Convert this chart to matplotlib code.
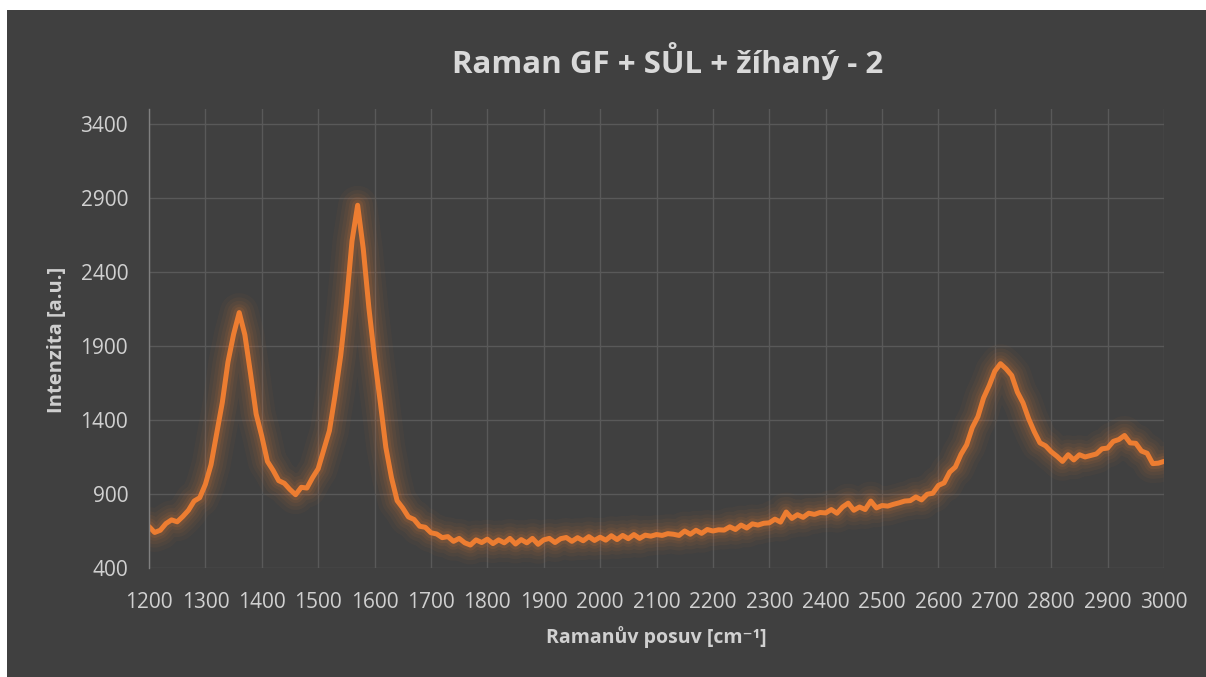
import matplotlib.pyplot as plt
from matplotlib.patches import Rectangle

plt.rcParams['font.family'] = ['Open Sans', 'DejaVu Sans']

# Raman spectrum, one value every 10 cm-1
wavenumber = list(range(1200, 3001, 10))
intensity = [
    680, 640, 655, 700, 725, 712, 748, 790, 852, 875,
    965, 1098, 1310, 1518, 1790, 1978, 2125, 1975, 1715, 1440,
    1290, 1120, 1060, 990, 972, 930, 895, 945, 940, 1010,
    1070, 1200, 1328, 1568, 1835, 2185, 2608, 2850, 2555, 2155,
    1820, 1525, 1215, 1010, 855, 805, 745, 728, 682, 675,
    638, 630, 605, 612, 580, 600, 570, 555, 590, 572,
    595, 565, 590, 570, 600, 562, 592, 570, 600, 560,
    590, 600, 572, 598, 606, 580, 605, 584, 612, 586,
    608, 588, 618, 592, 620, 598, 626, 600, 622, 615,
    626, 620, 632, 628, 620, 650, 628, 655, 634, 660,
    650, 658, 656, 678, 660, 690, 670, 698, 690, 702,
    705, 730, 710, 778, 735, 760, 742, 770, 762, 775,
    772, 795, 770, 812, 838, 790, 812, 795, 852, 806,
    822, 818, 830, 840, 852, 855, 880, 860, 898, 905,
    958, 975, 1048, 1082, 1168, 1232, 1348, 1422, 1548, 1632,
    1730, 1780, 1745, 1700, 1588, 1515, 1408, 1320, 1245, 1225,
    1185, 1155, 1120, 1165, 1130, 1165, 1150, 1160, 1170, 1205,
    1210, 1255, 1268, 1295, 1245, 1242, 1190, 1175, 1105, 1108,
    1120,
]
x_ticks = list(range(1200, 3001, 100))
y_ticks = list(range(400, 3401, 500))

BG = "#404040"
GRID = "#595959"
TEXT = "#d0d0d0"
ORANGE = "#ED7D31"

fig = plt.figure(figsize=(12.06, 6.77), dpi=100, facecolor="white")
fig.patches.append(Rectangle((7 / 1206, 0), 1, 667 / 677, transform=fig.transFigure,
                             facecolor=BG, edgecolor="none", zorder=-5))

ax = fig.add_axes([149 / 1206, 109 / 677, 1015 / 1206, 459 / 677])
ax.set_facecolor(BG)

# soft glow around the line
for lw, a in [(28, 0.04), (22, 0.05), (17, 0.06), (12, 0.08), (8, 0.12)]:
    ax.plot(wavenumber, intensity, color=ORANGE, lw=lw, alpha=a,
            solid_capstyle="round", solid_joinstyle="round")
ax.plot(wavenumber, intensity, color=ORANGE, lw=3.6,
        solid_capstyle="round", solid_joinstyle="round")

ax.set_xlim(1200, 3000)
ax.set_ylim(400, 3500)
ax.set_xticks(x_ticks)
ax.set_yticks(y_ticks)
ax.grid(True, color=GRID, lw=1.0)
ax.set_axisbelow(True)
for s in ["top", "right", "bottom"]:
    ax.spines[s].set_visible(False)
ax.spines["left"].set_color("#808080")
ax.spines["left"].set_linewidth(1.0)
ax.tick_params(length=0, labelsize=15, colors=TEXT)
ax.tick_params(axis="y", pad=15)
ax.tick_params(axis="x", pad=17)

fig.text(668 / 1206, 1 - 61 / 677, "Raman GF + SŮL + žíhaný - 2", ha="center", va="center",
         fontsize=22.5, fontweight="bold", color="#d9d9d9")
fig.text(656 / 1206, 1 - 637 / 677, "Ramanův posuv [cm⁻¹]", ha="center", va="center",
         fontsize=14, fontweight="bold", color=TEXT)
fig.text(57 / 1206, 1 - 340 / 677, "Intenzita [a.u.]", ha="center", va="center", rotation=90,
         fontsize=14.5, fontweight="bold", color=TEXT)

fig.savefig("out.png", dpi=100, facecolor="white")
